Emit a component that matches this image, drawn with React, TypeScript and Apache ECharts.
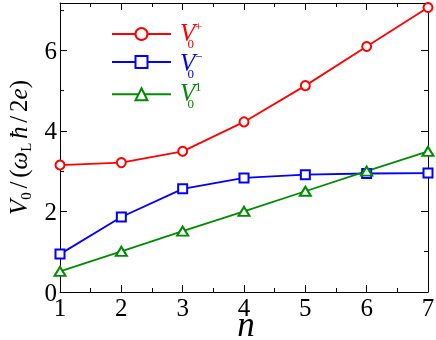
import React, { useEffect, useRef } from "react";
import * as echarts from "echarts";

const nValues = [1, 2, 3, 4, 5, 6, 7];
const vPlus = [3.15, 3.21, 3.49, 4.22, 5.12, 6.09, 7.06];
const vMinus = [0.94, 1.86, 2.56, 2.83, 2.91, 2.94, 2.95];
const vOne = [0.51, 1.01, 1.51, 2.0, 2.5, 3.0, 3.49];
const yMajorTicks = [0, 2, 4, 6];
const yMinorTicks = [1, 3, 5, 7];
const seriesNames = ["V0+", "V0-", "V01"];
const legendSup = ["+", "\u2212", "1"];

const RED = "#ff0000";
const BLUE = "#0000ff";
const GREEN = "#008b00";
const FAMILY = "Liberation Serif";

type Piece = { t: string; size: number; italic?: boolean; dy?: number; dx?: number };

function layoutPieces(pieces: Piece[], color: string) {
  const canvas = document.createElement("canvas");
  const ctx = canvas.getContext("2d")!;
  let x = 0;
  const out: any[] = [];
  for (const p of pieces) {
    ctx.font = `${p.italic ? "italic " : ""}${p.size}px "${FAMILY}"`;
    const w = ctx.measureText(p.t).width;
    x += p.dx || 0;
    out.push({
      type: "text",
      x,
      y: -0.34 * p.size + (p.dy || 0),
      style: {
        text: p.t,
        fontSize: p.size,
        fontFamily: FAMILY,
        fontStyle: p.italic ? "italic" : "normal",
        fill: color,
        align: "left",
        verticalAlign: "middle",
      },
    });
    x += w;
  }
  return out;
}

export default function App() {
  const ref = useRef<HTMLDivElement>(null);
  useEffect(() => {
    if (!ref.current) return;
    const chart = echarts.init(ref.current, null, { renderer: "svg" });
    const axisLineStyle = { color: "#000", width: 1 };
    const labelStyle = { color: "#000", fontSize: 25, fontFamily: FAMILY };

    const yTitle = layoutPieces(
      [
        { t: "V", size: 25, italic: true },
        { t: "0", size: 15, dy: 4 },
        { t: " ", size: 15 },
        { t: "/", size: 25 },
        { t: " ", size: 15 },
        { t: "(", size: 25 },
        { t: "\u03c9", size: 25, italic: true },
        { t: "L", size: 15, dy: 4 },
        { t: " ", size: 15 },
        { t: "\u0127", size: 25, italic: true },
        { t: " ", size: 15 },
        { t: "/", size: 25 },
        { t: " ", size: 15 },
        { t: "2", size: 25 },
        { t: "e", size: 25, italic: true },
        { t: ")", size: 25 },
      ],
      "#000"
    );

    const legendColors = [RED, BLUE, GREEN];
    const legendBaselines = [41, 71, 101];
    const legendTexts: any[] = [];
    legendBaselines.forEach((b, i) => {
      legendTexts.push({
        type: "group",
        x: 180,
        y: b,
        children: [
          ...layoutPieces([{ t: "V", size: 25, italic: true }], legendColors[i]),
          ...layoutPieces([{ t: "0", size: 13, dx: 7.5, dy: 7 }], legendColors[i]),
          ...layoutPieces([{ t: legendSup[i], size: 13, dx: 15, dy: -10 }], legendColors[i]),
        ],
      });
    });

    const legendTops = [26.5, 54.5, 86.8];

    const xBase = {
      type: "value",
      min: 1,
      max: 7,
      interval: 1,
      axisLine: { show: true, onZero: false, lineStyle: axisLineStyle },
      axisTick: { show: true, inside: true, length: 7, lineStyle: axisLineStyle },
      minorTick: { show: true, splitNumber: 2, length: 4, lineStyle: axisLineStyle },
      splitLine: { show: false },
      minorSplitLine: { show: false },
    };
    const yBase = {
      type: "value",
      min: 0,
      max: 7.17,
      interval: 1,
      splitLine: { show: false },
    };

    chart.setOption({
      animation: false,
      grid: { left: 60, right: 8, top: 3, bottom: 48, containLabel: false, outerBoundsMode: "none" },
      legend: seriesNames.map((name, i) => ({
        data: [name],
        left: 111,
        top: legendTops[i],
        padding: 0,
        itemWidth: 59,
        itemHeight: 15,
        formatter: () => "",
        textStyle: { fontSize: 8 },
        selectedMode: false,
      })),
      xAxis: [
        {
          ...xBase,
          position: "bottom",
          axisLabel: { ...labelStyle, margin: 3, hideOverlap: false, showMaxLabel: true, showMinLabel: true },
        },
        {
          ...xBase,
          position: "top",
          axisLabel: { show: false },
        },
      ],
      yAxis: [
        {
          ...yBase,
          position: "left",
          axisLine: { show: true, onZero: false, lineStyle: axisLineStyle },
          axisTick: { show: true, inside: true, length: 7, lineStyle: axisLineStyle, customValues: yMajorTicks },
          axisLabel: { ...labelStyle, margin: 3, customValues: yMajorTicks },
        },
        {
          ...yBase,
          position: "left",
          axisLine: { show: false, onZero: false },
          axisTick: { show: true, inside: true, length: 4, lineStyle: axisLineStyle, customValues: yMinorTicks },
          axisLabel: { show: false },
        },
        {
          ...yBase,
          position: "right",
          axisLine: { show: true, onZero: false, lineStyle: axisLineStyle },
          axisTick: { show: true, inside: true, length: 7, lineStyle: axisLineStyle, customValues: yMajorTicks },
          axisLabel: { show: false },
        },
        {
          ...yBase,
          position: "right",
          axisLine: { show: false, onZero: false },
          axisTick: { show: true, inside: true, length: 4, lineStyle: axisLineStyle, customValues: yMinorTicks },
          axisLabel: { show: false },
        },
      ],
      series: [
        {
          name: seriesNames[0],
          type: "line",
          data: nValues.map((n, i) => [n, vPlus[i]]),
          symbol: "emptyCircle",
          symbolSize: 9,
          color: RED,
          lineStyle: { color: RED, width: 1.8 },
          itemStyle: { color: RED, borderColor: RED, borderWidth: 1.8 },
        },
        {
          name: seriesNames[1],
          type: "line",
          data: nValues.map((n, i) => [n, vMinus[i]]),
          symbol: "emptyRect",
          symbolSize: 9,
          color: BLUE,
          lineStyle: { color: BLUE, width: 1.8 },
          itemStyle: { color: BLUE, borderColor: BLUE, borderWidth: 1.8 },
        },
        {
          name: seriesNames[2],
          type: "line",
          data: nValues.map((n, i) => [n, vOne[i]]),
          symbol: "emptyTriangle",
          symbolSize: [11, 9],
          color: GREEN,
          lineStyle: { color: GREEN, width: 1.8 },
          itemStyle: { color: GREEN, borderColor: GREEN, borderWidth: 1.8 },
        },
      ],
      graphic: [
        { type: "group", x: 27, y: 215, rotation: Math.PI / 2, children: yTitle },
        {
          type: "text",
          x: 246,
          y: 336 - 0.34 * 35,
          style: {
            text: "n",
            fontSize: 35,
            fontFamily: FAMILY,
            fontStyle: "italic",
            fill: "#000",
            align: "center",
            verticalAlign: "middle",
          },
        },
        ...legendTexts,
      ],
    });
    return () => chart.dispose();
  }, []);
  return <div ref={ref} style={{ position: "fixed", left: 0, top: 0, width: 436, height: 340 }} />;
}
